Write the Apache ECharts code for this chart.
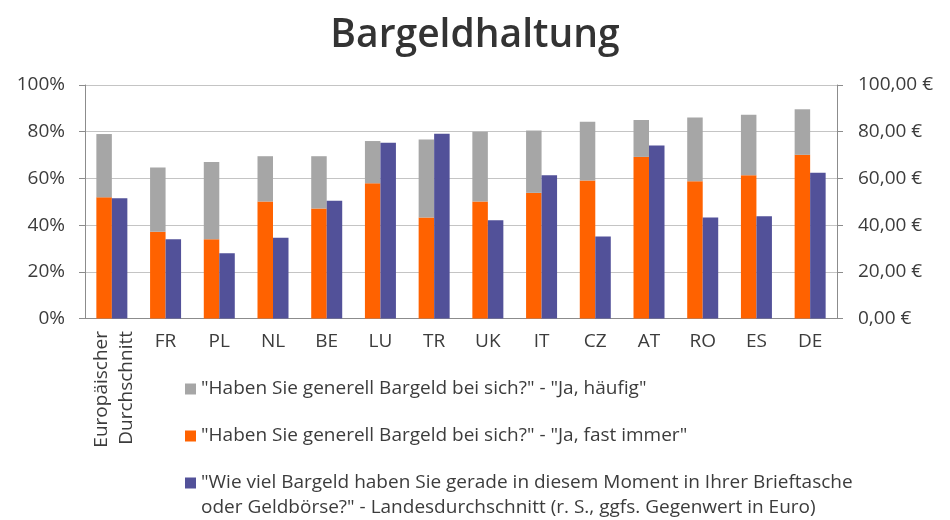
<!DOCTYPE html>
<html>
<head>
<meta charset="utf-8">
<style>
  html, body { margin: 0; padding: 0; background: #fff; }
  #chart { width: 950px; height: 520px; }
</style>
<script src="https://cdn.jsdelivr.net/npm/echarts@6/dist/echarts.min.js"></script>
</head>
<body>
<div id="chart"></div>
<script>
// Länder (erste Kategorie: europäischer Durchschnitt)
const categories = ['Europäischer Durchschnitt', 'FR', 'PL', 'NL', 'BE', 'LU', 'TR', 'UK', 'IT', 'CZ', 'AT', 'RO', 'ES', 'DE'];

// "Ja, fast immer" in %
const fastImmer = [51.9, 37.2, 33.9, 50.1, 47.1, 57.9, 43.3, 50.1, 53.8, 59.1, 69.2, 58.8, 61.4, 70.1];
// "Ja, häufig" in % (auf "fast immer" gestapelt)
const haeufig = [27.1, 27.5, 33.1, 19.4, 22.4, 18.1, 33.4, 29.9, 26.7, 25.2, 15.8, 27.3, 25.9, 19.5];
// Bargeld im Portemonnaie, Landesdurchschnitt in Euro
const bargeldEuro = [51.5, 33.9, 27.9, 34.6, 50.4, 75.3, 79.1, 42.1, 61.4, 35.1, 74.1, 43.3, 43.8, 62.4];

const leftTicks = [0, 20, 40, 60, 80, 100];
const rightTicks = [0, 20, 40, 60, 80, 100];

const nameHaeufig = '"Haben Sie generell Bargeld bei sich?" - "Ja, häufig"';
const nameFastImmer = '"Haben Sie generell Bargeld bei sich?" - "Ja, fast immer"';
const nameEuro = '"Wie viel Bargeld haben Sie gerade in diesem Moment in Ihrer Brieftasche\noder Geldbörse?" - Landesdurchschnitt (r. S., ggfs. Gegenwert in Euro)';

const FONT = '"Open Sans", sans-serif';
const TEXT = '#3c3c3c';
const FS = 19;

const chart = echarts.init(document.getElementById('chart'), null, { renderer: 'canvas' });

chart.setOption({
  animation: false,
  backgroundColor: '#ffffff',
  title: {
    text: 'Bargeldhaltung',
    left: 'center',
    top: 11,
    textStyle: { fontFamily: FONT, fontSize: 39, fontWeight: 600, color: '#333333' }
  },
  grid: { left: 85, right: 113, top: 85, bottom: 201.5, containLabel: false },
  legend: [
    {
      orient: 'vertical',
      left: 180,
      top: 371.5,
      itemWidth: 11,
      itemHeight: 11,
      itemGap: 22,
      icon: 'rect',
      textStyle: { fontFamily: FONT, fontSize: FS, lineHeight: 25, color: TEXT },
      data: [nameHaeufig, nameFastImmer]
    },
    {
      // leere erste Zeile, damit das Symbol auf Höhe der ersten Textzeile sitzt
      orient: 'vertical',
      left: 180,
      top: 440.5,
      itemWidth: 11,
      itemHeight: 11,
      icon: 'rect',
      formatter: name => '\n' + name,
      textStyle: { fontFamily: FONT, fontSize: FS, color: TEXT, lineHeight: 25 },
      data: [nameEuro]
    }
  ],
  xAxis: {
    type: 'category',
    data: categories,
    axisLine: { lineStyle: { color: '#8c8c8c', width: 1 } },
    axisTick: { show: false },
    axisLabel: {
      interval: 0,
      margin: 14,
      fontFamily: FONT,
      fontSize: FS,
      color: TEXT,
      formatter: (v, i) => (i === 0 ? '' : v)
    }
  },
  yAxis: [
    {
      type: 'value',
      min: 0,
      max: 100,
      interval: 20,
      axisLine: { show: true, lineStyle: { color: '#8c8c8c' } },
      axisTick: { show: true, length: 6, lineStyle: { color: '#8c8c8c' } },
      splitLine: { show: true, lineStyle: { color: '#c4c4c4' } },
      axisLabel: {
        margin: 20,
        fontFamily: FONT,
        fontSize: FS,
        color: TEXT,
        formatter: v => (leftTicks.includes(v) ? v + '%' : '')
      }
    },
    {
      type: 'value',
      min: 0,
      max: 100,
      interval: 20,
      position: 'right',
      axisLine: { show: true, lineStyle: { color: '#8c8c8c' } },
      axisTick: { show: true, length: 6, lineStyle: { color: '#8c8c8c' } },
      splitLine: { show: false },
      axisLabel: {
        margin: 21,
        fontFamily: FONT,
        fontSize: FS,
        color: TEXT,
        formatter: v => (rightTicks.includes(v) ? v.toFixed(2).replace('.', ',') + ' €' : '')
      }
    }
  ],
  series: [
    {
      name: nameFastImmer,
      type: 'bar',
      stack: 'anteil',
      yAxisIndex: 0,
      barWidth: 15.5,
      barGap: '0%',
      itemStyle: { color: '#ff6200' },
      data: fastImmer
    },
    {
      name: nameHaeufig,
      type: 'bar',
      stack: 'anteil',
      yAxisIndex: 0,
      barWidth: 15.5,
      barGap: '0%',
      itemStyle: { color: '#a6a6a6' },
      data: haeufig
    },
    {
      name: nameEuro,
      type: 'bar',
      yAxisIndex: 1,
      barWidth: 15.5,
      barGap: '0%',
      itemStyle: { color: '#525199' },
      data: bargeldEuro
    }
  ],
  graphic: [
    {
      // senkrecht gesetzte Beschriftung der ersten Kategorie
      type: 'text',
      x: 89,
      y: 331,
      rotation: Math.PI / 2,
      style: {
        text: 'Europäischer\nDurchschnitt',
        align: 'right',
        verticalAlign: 'top',
        fontFamily: FONT,
        fontSize: FS,
        lineHeight: 25,
        fill: TEXT
      }
    }
  ]
});
</script>
</body>
</html>
